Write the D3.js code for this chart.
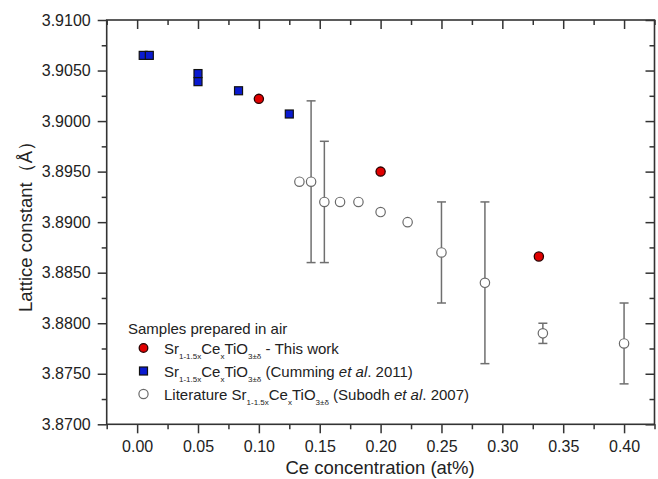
<!DOCTYPE html>
<html>
<head>
<meta charset="utf-8">
<script src="https://cdn.jsdelivr.net/npm/d3@7"></script>
<style>
  body { margin: 0; background: #fff; }
  svg { font-family: Arial, 'Liberation Sans', sans-serif; }
</style>
</head>
<body>
<svg id="chart" width="658" height="479"></svg>
<script>
// This work
let workX = [0.10, 0.20, 0.33];
let workY = [3.9022, 3.8950, 3.8866];
// Cumming et al. 2011
let cumX = [0.005, 0.01, 0.05, 0.05, 0.0833, 0.125];
let cumY = [3.9065, 3.9065, 3.9047, 3.9039, 3.9030, 3.9007];
// Subodh et al. 2007
let litX = [0.1333, 0.1429, 0.1538, 0.1667, 0.1818, 0.20, 0.2222, 0.25, 0.2857, 0.3333, 0.40];
let litY = [3.8940, 3.8940, 3.8920, 3.8920, 3.8920, 3.8910, 3.8900, 3.8870, 3.8840, 3.8790, 3.8780];
let litErr = [0, 0.008, 0.006, 0, 0, 0, 0, 0.005, 0.008, 0.001, 0.004];

let xTicks = [0, 0.05, 0.10, 0.15, 0.20, 0.25, 0.30, 0.35, 0.40];
let yTicks = [3.87, 3.875, 3.88, 3.885, 3.89, 3.895, 3.90, 3.905, 3.91];

let plotL = 106.7, plotR = 654.5, plotT = 20, plotB = 424.3;
let axisColor = '#333';

const svg = d3.select('#chart');

let x = d3.scaleLinear().domain([-0.025, 0.425]).range([plotL, plotR]);
let y = d3.scaleLinear().domain([3.87, 3.91]).range([plotB, plotT]);

let xMinor = d3.range(-0.025, 0.4251, 0.025).filter(v => Math.abs(v / 0.05 - Math.round(v / 0.05)) > 0.01);
let yMinor = d3.range(3.8725, 3.91, 0.005);

// bottom axis, ticks outward
let xAxis = d3.axisBottom(x).tickValues(xTicks).tickSize(9).tickSizeOuter(0)
  .tickPadding(7).tickFormat(d3.format('.2f'));
let gx = svg.append('g').attr('transform', 'translate(0,' + plotB + ')').call(xAxis);
gx.append('g').call(d3.axisBottom(x).tickValues(xMinor).tickSize(5).tickSizeOuter(0).tickFormat(''));

// left axis, ticks outward
let yAxis = d3.axisLeft(y).tickValues(yTicks).tickSize(9).tickSizeOuter(0)
  .tickPadding(7).tickFormat(d3.format('.4f'));
let gy = svg.append('g').attr('transform', 'translate(' + plotL + ',0)').call(yAxis);
gy.append('g').call(d3.axisLeft(y).tickValues(yMinor).tickSize(5).tickSizeOuter(0).tickFormat(''));

// top and right axes, ticks inward
let gt = svg.append('g').attr('transform', 'translate(0,' + plotT + ')');
gt.call(d3.axisBottom(x).tickValues(xTicks).tickSize(9).tickSizeOuter(0).tickFormat(''));
gt.append('g').call(d3.axisBottom(x).tickValues(xMinor).tickSize(5).tickSizeOuter(0).tickFormat(''));
let gr = svg.append('g').attr('transform', 'translate(' + plotR + ',0)');
gr.call(d3.axisLeft(y).tickValues(yTicks).tickSize(9).tickSizeOuter(0).tickFormat(''));
gr.append('g').call(d3.axisLeft(y).tickValues(yMinor).tickSize(5).tickSizeOuter(0).tickFormat(''));

svg.selectAll('.domain').remove();
svg.selectAll('.tick line').attr('stroke', axisColor).attr('stroke-width', 1.5);
svg.selectAll('.tick text').attr('fill', '#222').style('font-size', '16px').style('font-family', 'Arial, "Liberation Sans", sans-serif');

svg.append('rect')
  .attr('x', plotL).attr('y', plotT)
  .attr('width', plotR - plotL).attr('height', plotB - plotT)
  .attr('fill', 'none').attr('stroke', axisColor).attr('stroke-width', 1.6);

// axis titles
svg.append('text')
  .attr('x', 380).attr('y', 474)
  .attr('text-anchor', 'middle')
  .style('font-size', '18.5px').attr('fill', '#222')
  .text('Ce concentration (at%)');
svg.append('text')
  .attr('transform', 'translate(32,222) rotate(-90)')
  .attr('text-anchor', 'middle')
  .style('font-size', '18.5px').attr('fill', '#222')
  .text('Lattice constant（Å）');

// error bars (literature)
let errColor = '#6f6f6f';
let bars = svg.append('g');
litX.forEach(function (xv, i) {
  if (litErr[i] === 0) {
    return;
  }
  let cx = x(xv);
  let y1 = y(litY[i] + litErr[i]);
  let y2 = y(litY[i] - litErr[i]);
  bars.append('line').attr('x1', cx).attr('x2', cx).attr('y1', y1).attr('y2', y2)
    .attr('stroke', errColor).attr('stroke-width', 1.5);
  [y1, y2].forEach(function (yy) {
    bars.append('line').attr('x1', cx - 4.5).attr('x2', cx + 4.5).attr('y1', yy).attr('y2', yy)
      .attr('stroke', errColor).attr('stroke-width', 1.5);
  });
});

// literature points
svg.append('g').selectAll('circle')
  .data(litX)
  .enter()
  .append('circle')
  .attr('cx', d => x(d))
  .attr('cy', (d, i) => y(litY[i]))
  .attr('r', 4.7)
  .attr('fill', '#fff')
  .attr('stroke', '#6a6a6a')
  .attr('stroke-width', 1.2);

// Cumming points
svg.append('g').selectAll('rect')
  .data(cumX)
  .enter()
  .append('rect')
  .attr('x', d => x(d) - 4)
  .attr('y', (d, i) => y(cumY[i]) - 4)
  .attr('width', 8)
  .attr('height', 8)
  .attr('fill', '#0a1ad0')
  .attr('stroke', '#111')
  .attr('stroke-width', 1.2);

// this work
svg.append('g').selectAll('circle')
  .data(workX)
  .enter()
  .append('circle')
  .attr('cx', d => x(d))
  .attr('cy', (d, i) => y(workY[i]))
  .attr('r', 4.6)
  .attr('fill', '#e00000')
  .attr('stroke', '#2a0000')
  .attr('stroke-width', 1.3);

// legend
let legend = svg.append('g').style('font-size', '15px').attr('fill', '#222');
legend.append('text').attr('x', 128).attr('y', 334).text('Samples prepared in air');

const formula = function (t, prefix) {
  if (prefix) {
    t.append('tspan').text(prefix);
  }
  t.append('tspan').text('Sr');
  t.append('tspan').attr('dy', 5).style('font-size', '8px').text('1-1.5x');
  t.append('tspan').attr('dy', -5).text('Ce');
  t.append('tspan').attr('dy', 5).style('font-size', '8px').text('x');
  t.append('tspan').attr('dy', -5).text('TiO');
  t.append('tspan').attr('dy', 5).style('font-size', '8px').text('3±δ');
  t.append('tspan').attr('dy', -5).text(' ');
};

let rowY = [348, 371, 394];
let t1 = legend.append('text').attr('x', 164).attr('y', rowY[0] + 5.5);
formula(t1, '');
t1.append('tspan').text('- This work');

let t2 = legend.append('text').attr('x', 164).attr('y', rowY[1] + 5.5);
formula(t2, '');
t2.append('tspan').text('(Cumming ');
t2.append('tspan').style('font-style', 'italic').text('et al');
t2.append('tspan').text('. 2011)');

let t3 = legend.append('text').attr('x', 164).attr('y', rowY[2] + 5.5);
formula(t3, 'Literature ');
t3.append('tspan').text('(Subodh ');
t3.append('tspan').style('font-style', 'italic').text('et al');
t3.append('tspan').text('. 2007)');

legend.append('circle').attr('cx', 143.5).attr('cy', rowY[0]).attr('r', 4.3)
  .attr('fill', '#e00000').attr('stroke', '#2a0000').attr('stroke-width', 1.3);
legend.append('rect').attr('x', 139.5).attr('y', rowY[1] - 4).attr('width', 8).attr('height', 8)
  .attr('fill', '#0a1ad0').attr('stroke', '#111').attr('stroke-width', 1.2);
legend.append('circle').attr('cx', 143.5).attr('cy', rowY[2]).attr('r', 4.6)
  .attr('fill', '#fff').attr('stroke', '#6a6a6a').attr('stroke-width', 1.2);
</script>
</body>
</html>
